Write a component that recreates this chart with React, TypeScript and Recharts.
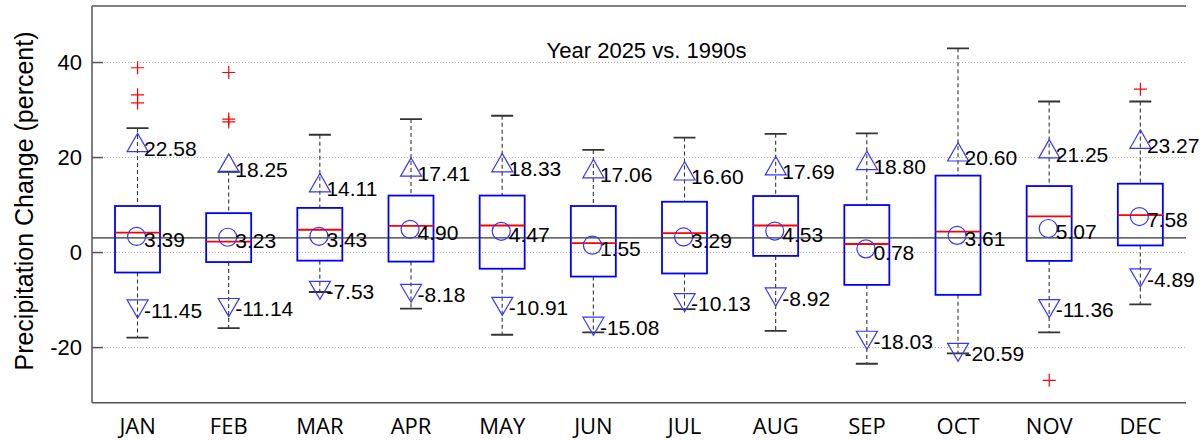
import React from 'react';
import {
  ComposedChart,
  Bar,
  Line,
  Scatter,
  XAxis,
  YAxis,
  CartesianGrid,
  ReferenceLine,
  ReferenceArea,
} from 'recharts';

const months = ['JAN', 'FEB', 'MAR', 'APR', 'MAY', 'JUN', 'JUL', 'AUG', 'SEP', 'OCT', 'NOV', 'DEC'];
const meanValues = [3.39, 3.23, 3.43, 4.9, 4.47, 1.55, 3.29, 4.53, 0.78, 3.61, 5.07, 7.58];
const upperMarks = [22.58, 18.25, 14.11, 17.41, 18.33, 17.06, 16.6, 17.69, 18.8, 20.6, 21.25, 23.27];
const lowerMarks = [-11.45, -11.14, -7.53, -8.18, -10.91, -15.08, -10.13, -8.92, -18.03, -20.59, -11.36, -4.89];
const medians = [4.2, 2.3, 4.8, 5.6, 5.7, 2.0, 4.1, 5.7, 1.8, 4.4, 7.6, 7.9];
const q3s = [9.8, 8.3, 9.4, 12.0, 12.0, 9.8, 10.7, 11.9, 10.0, 16.2, 14.0, 14.5];
const q1s = [-4.2, -2.0, -1.7, -1.9, -3.4, -5.05, -4.4, -0.7, -6.8, -8.9, -1.75, 1.5];
const whiskerHigh = [26.2, 17.05, 24.8, 28.1, 28.8, 21.6, 24.2, 25.0, 25.1, 43.0, 31.8, 31.8];
const whiskerLow = [-17.9, -15.9, -8.3, -11.8, -17.3, -16.8, -11.9, -16.5, -23.4, -21.2, -16.8, -10.9];
const outlierMonths = ['JAN', 'JAN', 'JAN', 'FEB', 'FEB', 'FEB', 'NOV', 'DEC'];
const outlierValues = [38.9, 33.2, 31.5, 37.9, 28.1, 27.5, -26.9, 34.4];
const yTicks = [-20, 0, 20, 40];
const referenceValue = 3.1;
const titleText = 'Year 2025 vs. 1990s';
const yLabelText = 'Precipitation Change (percent)';

const data = months.map((m, i) => ({
  month: m,
  mean: meanValues[i],
  up: upperMarks[i],
  down: lowerMarks[i],
  median: medians[i],
  q1: q1s[i],
  q3: q3s[i],
  hi: whiskerHigh[i],
  lo: whiskerLow[i],
}));
const outlierData = outlierMonths.map((m, i) => ({ month: m, value: outlierValues[i] }));

const FONT = '"Liberation Sans", Arial, Helvetica, sans-serif';
const MARK = '#3535ff';
const CAP_HALF = 11;

const UpperWhisker = (p: any) => {
  const cx = p.x + p.width / 2;
  const top = Math.min(p.y, p.y + p.height);
  const bottom = Math.max(p.y, p.y + p.height);
  return (
    <g>
      <line x1={cx} x2={cx} y1={top} y2={bottom} stroke="#333" strokeWidth={1.1} strokeDasharray="4 3" />
      <line x1={cx - CAP_HALF} x2={cx + CAP_HALF} y1={top} y2={top} stroke="#333" strokeWidth={1.8} />
    </g>
  );
};

const LowerWhisker = (p: any) => {
  const cx = p.x + p.width / 2;
  const top = Math.min(p.y, p.y + p.height);
  const bottom = Math.max(p.y, p.y + p.height);
  return (
    <g>
      <line x1={cx} x2={cx} y1={top} y2={bottom} stroke="#333" strokeWidth={1.1} strokeDasharray="4 3" />
      <line x1={cx - CAP_HALF} x2={cx + CAP_HALF} y1={bottom} y2={bottom} stroke="#333" strokeWidth={1.8} />
    </g>
  );
};

const BoxShape = (p: any) => {
  const top = Math.min(p.y, p.y + p.height);
  const h = Math.abs(p.height);
  return <rect x={p.x} y={top} width={p.width} height={h} fill="none" stroke="#0000ff" strokeWidth={1.8} />;
};

const valueLabel = (cx: number, cy: number, v: number) => (
  <text x={cx + 6.5} y={cy + 10.7} fontFamily={FONT} fontSize={21} fill="#000">
    {v.toFixed(2)}
  </text>
);

const MeanDot = (p: any) => {
  const { cx, cy, payload, index } = p;
  if (cx == null || cy == null) return <g key={`m${index}`} />;
  return (
    <g key={`m${index}`}>
      <circle cx={cx - 1} cy={cy} r={9} fill="none" stroke={MARK} strokeWidth={1.2} />
      {valueLabel(cx, cy, payload.mean)}
    </g>
  );
};

const UpDot = (p: any) => {
  const { cx, cy, payload, index } = p;
  if (cx == null || cy == null) return <g key={`u${index}`} />;
  const pts = `${cx},${cy - 12} ${cx - 10.5},${cy + 6.3} ${cx + 10.5},${cy + 6.3}`;
  return (
    <g key={`u${index}`}>
      <polygon points={pts} fill="none" stroke={MARK} strokeWidth={1.2} />
      {valueLabel(cx, cy, payload.up)}
    </g>
  );
};

const DownDot = (p: any) => {
  const { cx, cy, payload, index } = p;
  if (cx == null || cy == null) return <g key={`d${index}`} />;
  const pts = `${cx - 10.5},${cy - 7} ${cx + 10.5},${cy - 7} ${cx},${cy + 11}`;
  return (
    <g key={`d${index}`}>
      <polygon points={pts} fill="none" stroke={MARK} strokeWidth={1.2} />
      {valueLabel(cx, cy, payload.down)}
    </g>
  );
};

const MedianDot = (p: any) => {
  const { cx, cy, index } = p;
  if (cx == null || cy == null) return <g key={`md${index}`} />;
  return <line key={`md${index}`} x1={cx - 22.5} x2={cx + 22.5} y1={cy} y2={cy} stroke="#ff0000" strokeWidth={1.8} />;
};

const PlusShape = (p: any) => {
  const { cx, cy } = p;
  if (cx == null || cy == null) return <g />;
  return (
    <g>
      <line x1={cx - 6.5} x2={cx + 6.5} y1={cy} y2={cy} stroke="#ff0000" strokeWidth={1.2} />
      <line x1={cx} x2={cx} y1={cy - 6.5} y2={cy + 6.5} stroke="#ff0000" strokeWidth={1.2} />
    </g>
  );
};

const XTick = (p: any) => {
  const { x, y, payload } = p;
  return (
    <text x={x} y={y} dy={31.6} textAnchor="middle" fontFamily='"Open Sans", sans-serif' fontSize={22} fill="#000">
      {payload.value}
    </text>
  );
};

export default function App() {
  return (
    <div style={{ position: 'absolute', left: 0, top: 0, width: 1200, height: 440, background: '#fff' }}>
      <ComposedChart
        width={1200}
        height={440}
        data={data}
        margin={{ top: 6, right: 14, bottom: 7.3, left: 32 }}
      >
        <XAxis
          xAxisId="a"
          dataKey="month"
          type="category"
          allowDuplicatedCategory={false}
          tickLine={false}
          tickSize={0}
          tickMargin={0}
          axisLine={{ stroke: '#555', strokeWidth: 1.5 }}
          tick={<XTick />}
          height={30}
          interval={0}
        />
        <XAxis xAxisId="b" dataKey="month" type="category" hide />
        <XAxis xAxisId="c" dataKey="month" type="category" hide />
        <YAxis
          yAxisId="l"
          type="number"
          domain={[-31.6, 51.9]}
          allowDataOverflow
          ticks={yTicks}
          width={60}
          tickSize={-11}
          tickMargin={21}
          tickLine={{ stroke: '#555', strokeWidth: 1.5 }}
          axisLine={{ stroke: '#555', strokeWidth: 1.5 }}
          tick={{ fontFamily: FONT, fontSize: 22, fill: '#000' }}
        />
        <YAxis
          yAxisId="r"
          orientation="right"
          type="number"
          domain={[-31.6, 51.9]}
          allowDataOverflow
          ticks={yTicks}
          width={0}
          tick={false}
          tickSize={-11}
          tickLine={{ stroke: '#555', strokeWidth: 1.5 }}
          axisLine={{ stroke: '#555', strokeWidth: 1.5 }}
        />
        <CartesianGrid
          xAxisId="a"
          yAxisId="l"
          vertical={false}
          horizontalValues={yTicks}
          stroke="#b0b0b0"
          strokeDasharray="1 2"
        />
        <ReferenceLine xAxisId="a" yAxisId="l" y={51.9} stroke="#555" strokeWidth={1.5} ifOverflow="visible" />
        <ReferenceLine xAxisId="a" yAxisId="l" y={referenceValue} stroke="#333" strokeWidth={1.4} />
        <Bar
          xAxisId="a"
          yAxisId="l"
          dataKey={(d: any) => [d.q3, d.hi]}
          barSize={45}
          shape={(p: any) => <UpperWhisker {...p} />}
          isAnimationActive={false}
        />
        <Bar
          xAxisId="b"
          yAxisId="l"
          dataKey={(d: any) => [d.lo, d.q1]}
          barSize={45}
          shape={(p: any) => <LowerWhisker {...p} />}
          isAnimationActive={false}
        />
        <Bar
          xAxisId="c"
          yAxisId="l"
          dataKey={(d: any) => [d.q1, d.q3]}
          barSize={45}
          shape={(p: any) => <BoxShape {...p} />}
          isAnimationActive={false}
        />
        <Line xAxisId="a" yAxisId="l" dataKey="median" stroke="none" dot={MedianDot} activeDot={false} isAnimationActive={false} />
        <Line xAxisId="a" yAxisId="l" dataKey="mean" stroke="none" dot={MeanDot} activeDot={false} isAnimationActive={false} />
        <Line xAxisId="a" yAxisId="l" dataKey="up" stroke="none" dot={UpDot} activeDot={false} isAnimationActive={false} />
        <Line xAxisId="a" yAxisId="l" dataKey="down" stroke="none" dot={DownDot} activeDot={false} isAnimationActive={false} />
        <Scatter
          xAxisId="a"
          yAxisId="l"
          data={outlierData}
          dataKey="value"
          shape={(p: any) => <PlusShape {...p} />}
          isAnimationActive={false}
        />
      </ComposedChart>
      <svg width={1200} height={440} style={{ position: 'absolute', left: 0, top: 0, pointerEvents: 'none' }}>
        <text x={646.5} y={58} textAnchor="middle" fontFamily={FONT} fontSize={22} fill="#000">
          {titleText}
        </text>
        <text transform="translate(33,201) rotate(-90)" textAnchor="middle" fontFamily={FONT} fontSize={25} fill="#000">
          {yLabelText}
        </text>
      </svg>
    </div>
  );
}
